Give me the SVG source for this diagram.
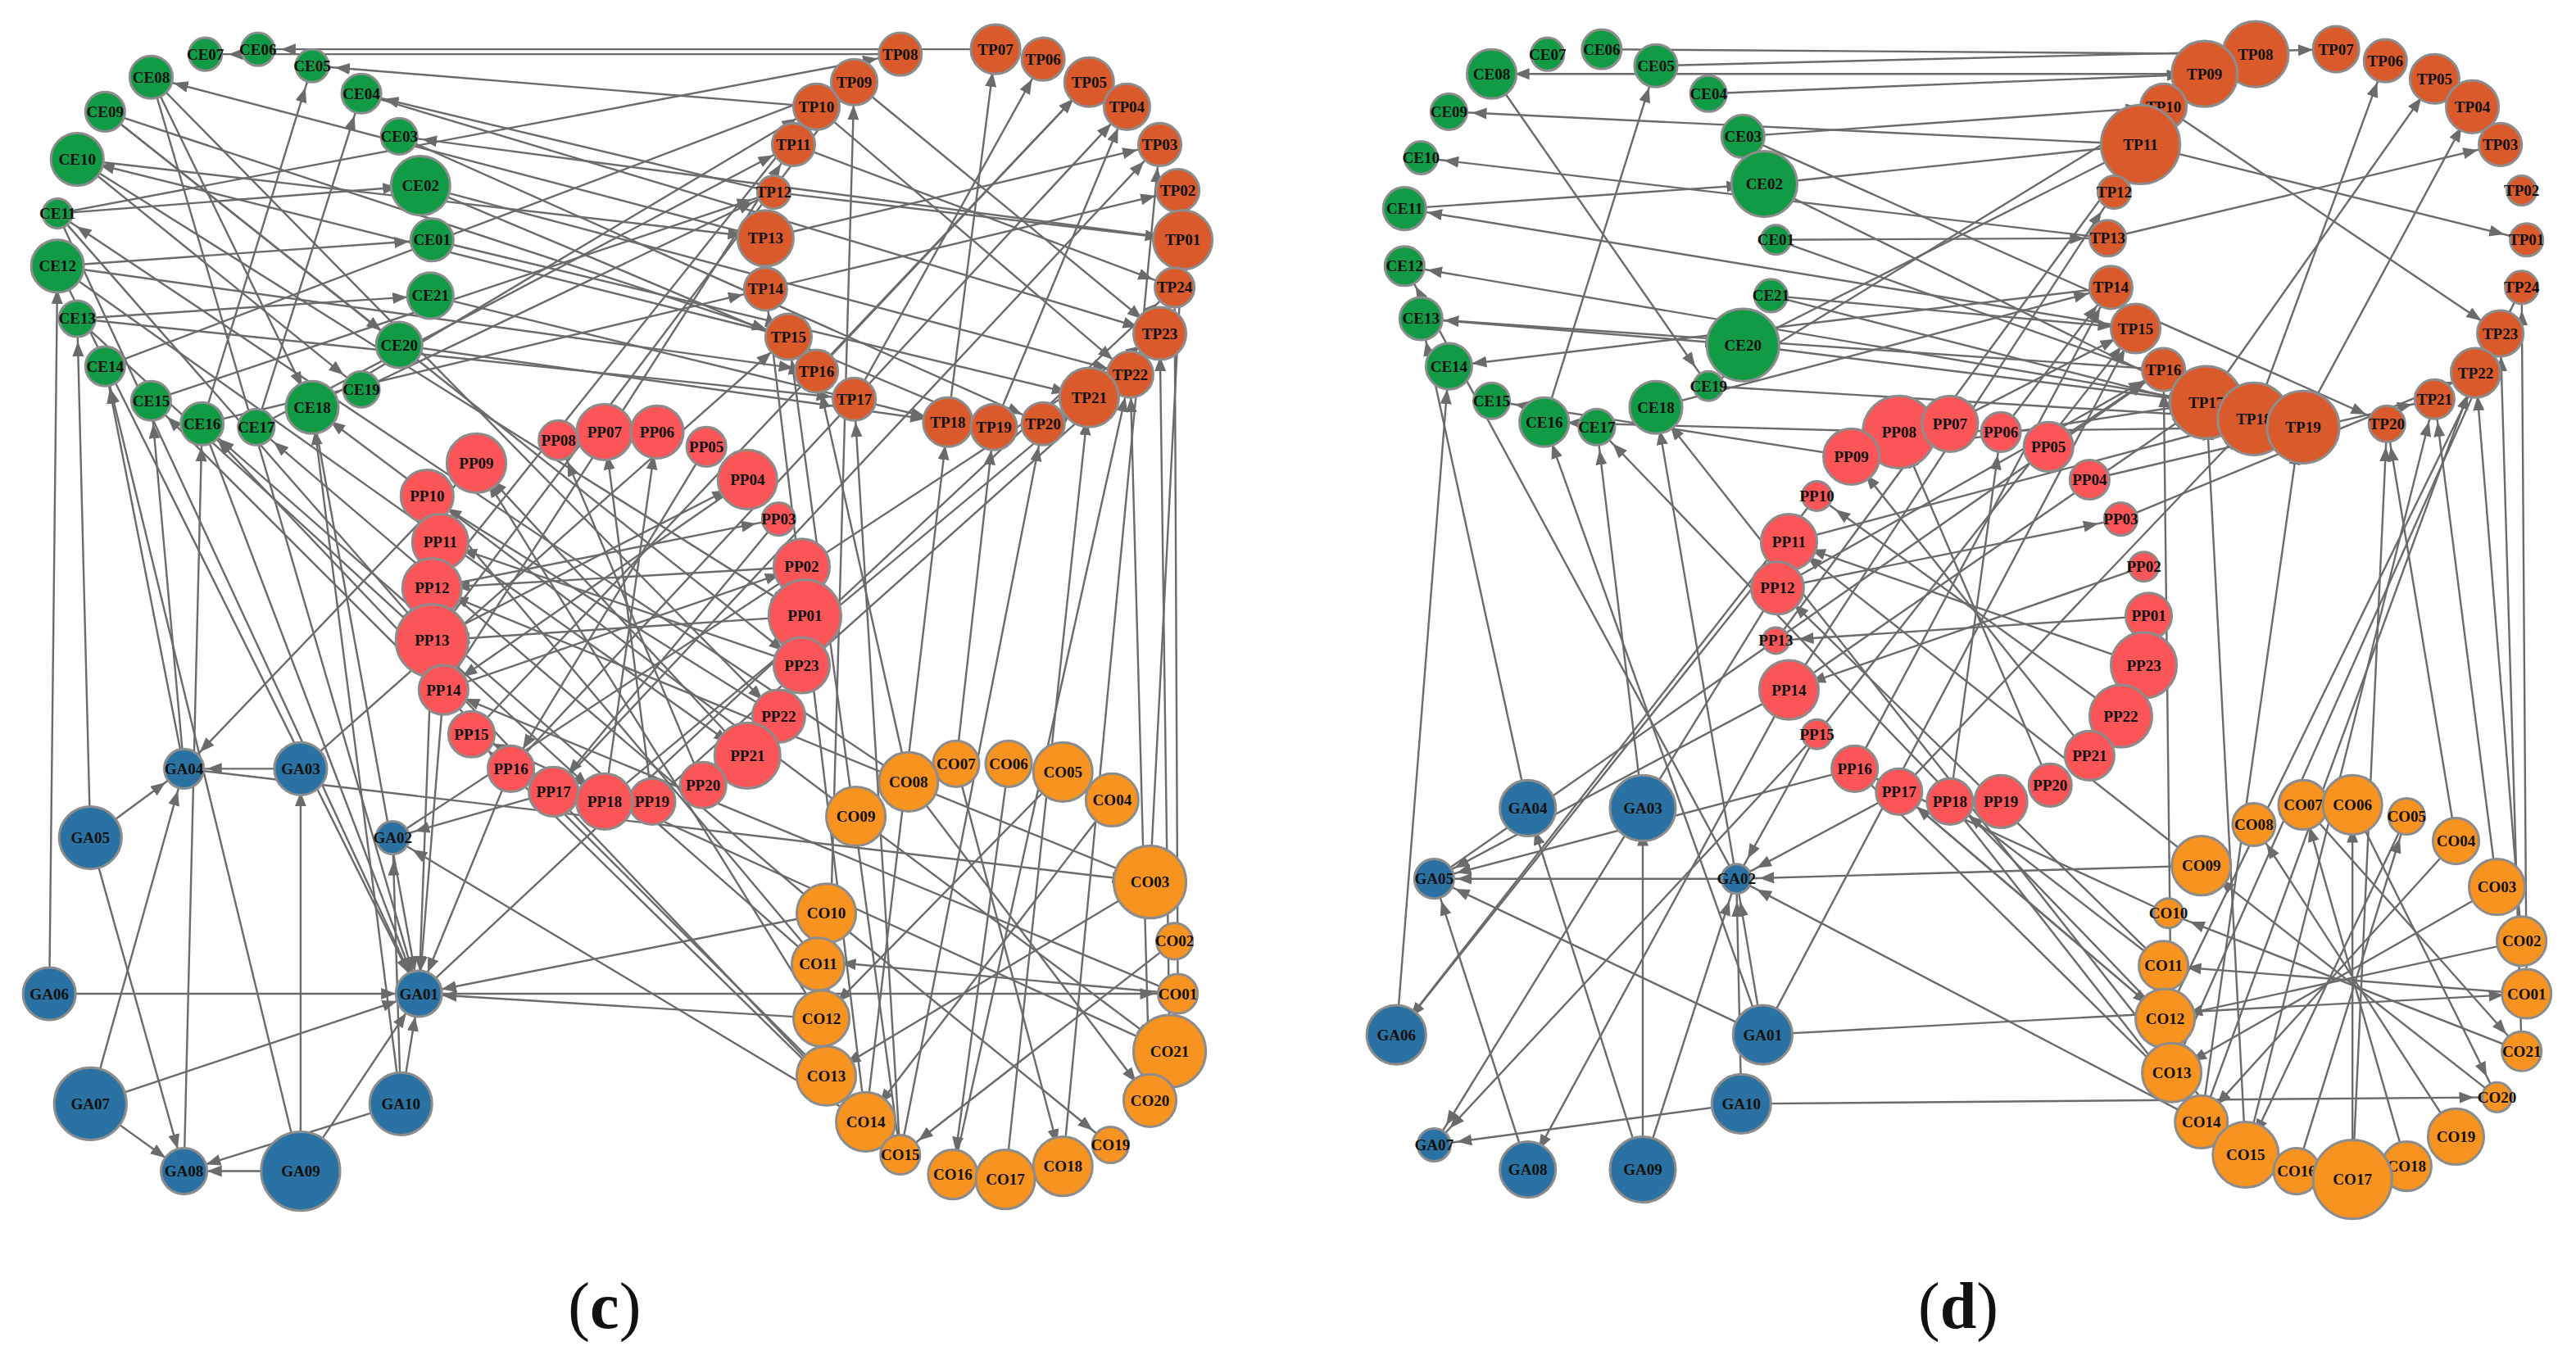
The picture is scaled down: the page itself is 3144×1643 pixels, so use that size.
<svg xmlns="http://www.w3.org/2000/svg" width="3144" height="1643" viewBox="0 0 3144 1643">
<style>
circle{stroke:#8c8c8c;stroke-width:1.5}
.ce{fill:#119b46}.tp{fill:#db5a2b}.pp{fill:#fb5557}.ga{fill:#2a72a3}.co{fill:#f8931f}
text{font-family:"Liberation Serif",serif;font-weight:bold;font-size:9.5px;text-anchor:middle;dominant-baseline:central;fill:#111}
.e line{stroke:#6b6b6b;stroke-width:1.2;marker-end:url(#a)}
.lab{font-size:40px;font-weight:normal}
.b{font-weight:bold}
</style>
<defs><marker id="a" markerUnits="userSpaceOnUse" markerWidth="40" markerHeight="8" refX="23" refY="3.5" orient="auto"><path d="M0,0L9,3.5L0,7z" fill="#6b6b6b"/></marker></defs>
<rect width="3144" height="1643" fill="#fff"/>
<g transform="scale(2.005)">
<g id="edges-c" class="e">
<line x1="35" y1="130" x2="255" y2="605"/><line x1="35" y1="162" x2="255" y2="605"/><line x1="92" y1="47" x2="255" y2="605"/><line x1="123" y1="258" x2="255" y2="605"/><line x1="190" y1="248" x2="255" y2="605"/>
<line x1="35" y1="130" x2="263" y2="390"/><line x1="35" y1="162" x2="455" y2="460"/><line x1="47" y1="194" x2="368" y2="488"/><line x1="47" y1="97" x2="490" y2="375"/><line x1="64" y1="68" x2="488" y2="405"/><line x1="92" y1="47" x2="474" y2="436"/>
<line x1="548" y1="33" x2="125" y2="33"/><line x1="606" y1="30" x2="157" y2="30"/><line x1="497" y1="65" x2="190" y2="40"/><line x1="471" y1="117" x2="220" y2="57"/><line x1="466" y1="145" x2="92" y2="47"/><line x1="720" y1="146" x2="243" y2="83"/><line x1="480" y1="205" x2="47" y2="97"/>
<line x1="263" y1="390" x2="520" y2="50"/><line x1="263" y1="358" x2="497" y2="65"/><line x1="270" y1="420" x2="483" y2="88"/><line x1="287" y1="447" x2="663" y2="50"/><line x1="311" y1="468" x2="686" y2="65"/><line x1="337" y1="482" x2="706" y2="88"/><line x1="368" y1="488" x2="663" y2="242"/><line x1="397" y1="488" x2="688" y2="228"/>
<line x1="548" y1="703" x2="520" y2="243"/><line x1="527" y1="683" x2="577" y2="257"/><line x1="548" y1="703" x2="635" y2="258"/><line x1="527" y1="683" x2="123" y2="258"/><line x1="503" y1="655" x2="92" y2="244"/><line x1="500" y1="620" x2="290" y2="282"/><line x1="498" y1="585" x2="260" y2="302"/><line x1="503" y1="556" x2="255" y2="605"/><line x1="500" y1="620" x2="255" y2="605"/><line x1="527" y1="683" x2="239" y2="510"/><line x1="548" y1="703" x2="287" y2="447"/><line x1="553" y1="476" x2="497" y2="226"/><line x1="582" y1="465" x2="605" y2="260"/>
<line x1="553" y1="476" x2="700" y2="670"/><line x1="503" y1="556" x2="676" y2="697"/><line x1="582" y1="465" x2="647" y2="710"/><line x1="614" y1="465" x2="580" y2="715"/><line x1="647" y1="470" x2="500" y2="620"/><line x1="677" y1="487" x2="527" y2="683"/><line x1="700" y1="537" x2="503" y2="655"/><line x1="521" y1="497" x2="712" y2="640"/><line x1="715" y1="573" x2="548" y2="703"/><line x1="717" y1="605" x2="498" y2="585"/>
<line x1="55" y1="672" x2="112" y2="713"/><line x1="183" y1="713" x2="112" y2="713"/><line x1="55" y1="672" x2="112" y2="468"/><line x1="55" y1="510" x2="112" y2="468"/><line x1="183" y1="468" x2="112" y2="468"/><line x1="244" y1="672" x2="255" y2="605"/><line x1="183" y1="713" x2="255" y2="605"/><line x1="30" y1="605" x2="255" y2="605"/><line x1="244" y1="672" x2="112" y2="713"/><line x1="183" y1="713" x2="183" y2="468"/><line x1="55" y1="672" x2="255" y2="605"/><line x1="55" y1="510" x2="112" y2="713"/>
<line x1="112" y1="468" x2="64" y2="223"/><line x1="112" y1="468" x2="92" y2="244"/><line x1="183" y1="468" x2="480" y2="205"/><line x1="112" y1="468" x2="700" y2="537"/><line x1="255" y1="605" x2="717" y2="605"/><line x1="255" y1="605" x2="715" y2="175"/><line x1="239" y1="510" x2="706" y2="203"/>
<line x1="490" y1="375" x2="263" y2="390"/><line x1="488" y1="345" x2="263" y2="358"/><line x1="488" y1="405" x2="268" y2="330"/><line x1="455" y1="292" x2="270" y2="420"/><line x1="430" y1="272" x2="311" y2="468"/><line x1="474" y1="316" x2="337" y2="482"/><line x1="474" y1="436" x2="260" y2="302"/><line x1="455" y1="460" x2="290" y2="282"/><line x1="428" y1="478" x2="340" y2="268"/><line x1="397" y1="488" x2="368" y2="263"/><line x1="263" y1="390" x2="455" y2="292"/><line x1="263" y1="358" x2="474" y2="316"/><line x1="270" y1="420" x2="488" y2="345"/><line x1="368" y1="488" x2="400" y2="263"/>
<line x1="35" y1="130" x2="256" y2="113"/><line x1="35" y1="162" x2="263" y2="146"/><line x1="47" y1="194" x2="262" y2="180"/><line x1="64" y1="68" x2="243" y2="210"/><line x1="47" y1="97" x2="220" y2="237"/><line x1="92" y1="47" x2="190" y2="248"/><line x1="123" y1="258" x2="190" y2="40"/><line x1="156" y1="260" x2="220" y2="57"/>
<line x1="466" y1="145" x2="706" y2="88"/><line x1="466" y1="176" x2="717" y2="116"/><line x1="471" y1="117" x2="720" y2="146"/><line x1="483" y1="88" x2="715" y2="175"/><line x1="520" y1="50" x2="706" y2="203"/><line x1="497" y1="65" x2="688" y2="228"/><line x1="497" y1="226" x2="663" y2="50"/><line x1="520" y1="243" x2="635" y2="36"/><line x1="577" y1="257" x2="606" y2="30"/><line x1="605" y1="260" x2="686" y2="65"/>
<line x1="700" y1="537" x2="720" y2="146"/><line x1="717" y1="605" x2="715" y2="175"/><line x1="712" y1="640" x2="706" y2="203"/><line x1="700" y1="670" x2="688" y2="228"/>
<line x1="263" y1="390" x2="255" y2="605"/><line x1="270" y1="420" x2="255" y2="605"/><line x1="311" y1="468" x2="255" y2="605"/><line x1="337" y1="482" x2="239" y2="510"/><line x1="290" y1="282" x2="112" y2="468"/>
<line x1="35" y1="130" x2="548" y2="33"/><line x1="64" y1="223" x2="520" y2="50"/><line x1="92" y1="244" x2="471" y2="117"/><line x1="256" y1="113" x2="605" y2="260"/><line x1="262" y1="180" x2="577" y2="257"/><line x1="30" y1="605" x2="35" y2="162"/><line x1="55" y1="510" x2="47" y2="194"/>
<line x1="47" y1="97" x2="466" y2="145"/><line x1="64" y1="68" x2="480" y2="205"/><line x1="35" y1="162" x2="497" y2="226"/><line x1="47" y1="194" x2="520" y2="243"/><line x1="123" y1="258" x2="466" y2="176"/><line x1="156" y1="260" x2="483" y2="88"/><line x1="190" y1="248" x2="497" y2="65"/><line x1="220" y1="237" x2="471" y2="117"/><line x1="243" y1="210" x2="577" y2="257"/><line x1="263" y1="146" x2="663" y2="242"/><line x1="256" y1="113" x2="688" y2="228"/><line x1="243" y1="83" x2="635" y2="258"/><line x1="220" y1="57" x2="706" y2="203"/><line x1="527" y1="683" x2="466" y2="176"/><line x1="548" y1="703" x2="480" y2="205"/><line x1="503" y1="655" x2="520" y2="50"/><line x1="612" y1="718" x2="663" y2="242"/><line x1="580" y1="715" x2="688" y2="228"/><line x1="647" y1="710" x2="706" y2="88"/><line x1="498" y1="587" x2="123" y2="258"/><line x1="503" y1="556" x2="156" y2="260"/><line x1="521" y1="497" x2="190" y2="248"/><line x1="553" y1="476" x2="35" y2="130"/><line x1="700" y1="537" x2="263" y2="358"/><line x1="717" y1="605" x2="270" y2="420"/><line x1="712" y1="640" x2="287" y2="447"/><line x1="183" y1="713" x2="64" y2="223"/><line x1="112" y1="713" x2="123" y2="258"/><line x1="244" y1="672" x2="190" y2="248"/><line x1="244" y1="672" x2="239" y2="510"/>
</g>
<g id="edges-d" class="e">
<line x1="975" y1="30" x2="1373" y2="33"/><line x1="1008" y1="40" x2="1422" y2="30"/><line x1="1040" y1="57" x2="1342" y2="45"/><line x1="1074" y1="112" x2="1303" y2="88"/><line x1="1061" y1="83" x2="1317" y2="65"/><line x1="1081" y1="146" x2="1283" y2="145"/><line x1="1078" y1="180" x2="1300" y2="200"/><line x1="1061" y1="210" x2="1343" y2="245"/><line x1="1040" y1="235" x2="1372" y2="255"/>
<line x1="1342" y1="45" x2="908" y2="45"/><line x1="1303" y1="88" x2="882" y2="68"/><line x1="1283" y1="145" x2="865" y2="96"/><line x1="1300" y1="200" x2="855" y2="127"/><line x1="1343" y1="245" x2="855" y2="162"/><line x1="1317" y1="225" x2="865" y2="194"/><line x1="1285" y1="175" x2="882" y2="223"/>
<line x1="1156" y1="263" x2="940" y2="257"/><line x1="1127" y1="278" x2="908" y2="244"/><line x1="1187" y1="258" x2="1300" y2="200"/><line x1="1247" y1="272" x2="1317" y2="225"/><line x1="1218" y1="263" x2="1285" y2="175"/><line x1="1272" y1="292" x2="1482" y2="243"/><line x1="1291" y1="316" x2="1507" y2="227"/><line x1="1081" y1="390" x2="1303" y2="88"/><line x1="1089" y1="420" x2="1287" y2="117"/><line x1="1106" y1="447" x2="1057" y2="535"/><line x1="1156" y1="482" x2="1057" y2="535"/><line x1="1129" y1="468" x2="873" y2="535"/><line x1="1089" y1="420" x2="873" y2="535"/><line x1="1082" y1="358" x2="873" y2="697"/><line x1="1089" y1="330" x2="850" y2="630"/>
<line x1="1308" y1="375" x2="1081" y2="390"/><line x1="1305" y1="405" x2="1089" y2="330"/><line x1="1305" y1="345" x2="1089" y2="420"/><line x1="1291" y1="436" x2="1106" y2="302"/><line x1="1272" y1="460" x2="1127" y2="278"/><line x1="1248" y1="478" x2="1156" y2="263"/><line x1="1187" y1="488" x2="1218" y2="263"/><line x1="1082" y1="358" x2="1291" y2="316"/>
<line x1="1367" y1="703" x2="1343" y2="245"/><line x1="1340" y1="683" x2="1400" y2="260"/><line x1="1322" y1="653" x2="1317" y2="225"/><line x1="1318" y1="620" x2="1156" y2="482"/><line x1="1317" y1="588" x2="1187" y2="488"/><line x1="1320" y1="556" x2="1129" y2="468"/><line x1="1340" y1="527" x2="1057" y2="535"/><line x1="1340" y1="683" x2="1057" y2="535"/><line x1="1367" y1="703" x2="1008" y2="248"/><line x1="1318" y1="620" x2="972" y2="260"/><line x1="1495" y1="512" x2="1453" y2="258"/><line x1="1520" y1="540" x2="1482" y2="243"/><line x1="1535" y1="573" x2="1507" y2="227"/>
<line x1="1520" y1="668" x2="1340" y2="527"/><line x1="1495" y1="692" x2="1372" y2="502"/><line x1="1465" y1="710" x2="1402" y2="490"/><line x1="1432" y1="718" x2="1432" y2="490"/><line x1="1398" y1="713" x2="1465" y2="497"/><line x1="1535" y1="640" x2="1320" y2="556"/><line x1="1538" y1="605" x2="1317" y2="588"/><line x1="1535" y1="573" x2="1318" y2="620"/><line x1="1520" y1="540" x2="1322" y2="653"/><line x1="1495" y1="512" x2="1340" y2="683"/><line x1="1465" y1="497" x2="1367" y2="703"/><line x1="1432" y1="490" x2="1520" y2="668"/><line x1="1402" y1="490" x2="1535" y2="640"/>
<line x1="1057" y1="535" x2="873" y2="535"/><line x1="1060" y1="672" x2="873" y2="697"/><line x1="1000" y1="712" x2="930" y2="492"/><line x1="930" y1="712" x2="873" y2="535"/><line x1="1073" y1="630" x2="873" y2="535"/><line x1="1060" y1="672" x2="1057" y2="535"/><line x1="1073" y1="630" x2="1057" y2="535"/><line x1="1000" y1="712" x2="1057" y2="535"/><line x1="1073" y1="630" x2="1538" y2="605"/><line x1="1060" y1="672" x2="1520" y2="668"/><line x1="873" y1="535" x2="1317" y2="225"/><line x1="930" y1="492" x2="865" y2="194"/><line x1="850" y1="630" x2="882" y2="223"/><line x1="1073" y1="630" x2="940" y2="257"/><line x1="1057" y1="535" x2="1008" y2="248"/><line x1="1057" y1="535" x2="855" y2="162"/><line x1="1000" y1="492" x2="972" y2="260"/>
<line x1="855" y1="127" x2="1074" y2="112"/><line x1="865" y1="194" x2="1061" y2="210"/><line x1="908" y1="45" x2="1040" y2="235"/><line x1="940" y1="257" x2="1008" y2="40"/><line x1="1283" y1="145" x2="1522" y2="88"/><line x1="1303" y1="88" x2="1538" y2="146"/><line x1="1343" y1="245" x2="1482" y2="48"/><line x1="1372" y1="255" x2="1452" y2="37"/><line x1="1400" y1="260" x2="1505" y2="65"/><line x1="1317" y1="65" x2="1522" y2="203"/><line x1="1538" y1="605" x2="1535" y2="175"/><line x1="1535" y1="640" x2="1522" y2="203"/>
<line x1="1074" y1="112" x2="1343" y2="245"/><line x1="1061" y1="210" x2="1303" y2="88"/><line x1="1078" y1="180" x2="1372" y2="255"/><line x1="1081" y1="146" x2="1402" y2="260"/><line x1="1040" y1="235" x2="1317" y2="65"/><line x1="1061" y1="83" x2="1453" y2="258"/><line x1="1008" y1="248" x2="1285" y2="175"/><line x1="1156" y1="263" x2="1402" y2="260"/><line x1="1127" y1="278" x2="1343" y2="245"/><line x1="1089" y1="330" x2="1372" y2="255"/><line x1="1082" y1="358" x2="1317" y2="225"/><line x1="1089" y1="420" x2="1343" y2="245"/><line x1="1106" y1="447" x2="1300" y2="200"/><line x1="1129" y1="468" x2="1285" y2="175"/><line x1="1156" y1="482" x2="1372" y2="255"/><line x1="1187" y1="488" x2="1340" y2="683"/><line x1="1156" y1="482" x2="1318" y2="620"/><line x1="1129" y1="468" x2="1367" y2="703"/><line x1="1089" y1="420" x2="930" y2="712"/><line x1="1106" y1="447" x2="873" y2="697"/><line x1="1340" y1="683" x2="1507" y2="227"/><line x1="1367" y1="703" x2="1482" y2="243"/><line x1="1432" y1="718" x2="1453" y2="258"/><line x1="1322" y1="653" x2="1522" y2="203"/><line x1="1318" y1="620" x2="1535" y2="175"/><line x1="1340" y1="527" x2="1089" y2="330"/><line x1="1317" y1="588" x2="1082" y2="358"/><line x1="1000" y1="712" x2="1000" y2="492"/><line x1="1073" y1="630" x2="1300" y2="200"/><line x1="850" y1="630" x2="1106" y2="302"/>
</g>
<g id="c-CE07"><circle class="ce" cx="125" cy="33" r="10"/><text x="125" y="33">CE07</text></g>
<g id="c-CE06"><circle class="ce" cx="157" cy="30" r="10"/><text x="157" y="30">CE06</text></g>
<g id="c-CE05"><circle class="ce" cx="190" cy="40" r="10"/><text x="190" y="40">CE05</text></g>
<g id="c-CE08"><circle class="ce" cx="92" cy="47" r="13"/><text x="92" y="47">CE08</text></g>
<g id="c-CE04"><circle class="ce" cx="220" cy="57" r="12"/><text x="220" y="57">CE04</text></g>
<g id="c-CE09"><circle class="ce" cx="64" cy="68" r="12"/><text x="64" y="68">CE09</text></g>
<g id="c-CE03"><circle class="ce" cx="243" cy="83" r="11"/><text x="243" y="83">CE03</text></g>
<g id="c-CE10"><circle class="ce" cx="47" cy="97" r="16"/><text x="47" y="97">CE10</text></g>
<g id="c-CE02"><circle class="ce" cx="256" cy="113" r="18"/><text x="256" y="113">CE02</text></g>
<g id="c-CE11"><circle class="ce" cx="35" cy="130" r="9"/><text x="35" y="130">CE11</text></g>
<g id="c-CE01"><circle class="ce" cx="263" cy="146" r="13"/><text x="263" y="146">CE01</text></g>
<g id="c-CE12"><circle class="ce" cx="35" cy="162" r="16"/><text x="35" y="162">CE12</text></g>
<g id="c-CE21"><circle class="ce" cx="262" cy="180" r="14"/><text x="262" y="180">CE21</text></g>
<g id="c-CE13"><circle class="ce" cx="47" cy="194" r="11"/><text x="47" y="194">CE13</text></g>
<g id="c-CE20"><circle class="ce" cx="243" cy="210" r="14"/><text x="243" y="210">CE20</text></g>
<g id="c-CE14"><circle class="ce" cx="64" cy="223" r="12"/><text x="64" y="223">CE14</text></g>
<g id="c-CE19"><circle class="ce" cx="220" cy="237" r="11"/><text x="220" y="237">CE19</text></g>
<g id="c-CE15"><circle class="ce" cx="92" cy="244" r="12"/><text x="92" y="244">CE15</text></g>
<g id="c-CE18"><circle class="ce" cx="190" cy="248" r="16"/><text x="190" y="248">CE18</text></g>
<g id="c-CE16"><circle class="ce" cx="123" cy="258" r="13"/><text x="123" y="258">CE16</text></g>
<g id="c-CE17"><circle class="ce" cx="156" cy="260" r="11"/><text x="156" y="260">CE17</text></g>
<g id="c-TP08"><circle class="tp" cx="548" cy="33" r="13"/><text x="548" y="33">TP08</text></g>
<g id="c-TP07"><circle class="tp" cx="606" cy="30" r="15"/><text x="606" y="30">TP07</text></g>
<g id="c-TP06"><circle class="tp" cx="635" cy="36" r="13"/><text x="635" y="36">TP06</text></g>
<g id="c-TP05"><circle class="tp" cx="663" cy="50" r="15"/><text x="663" y="50">TP05</text></g>
<g id="c-TP09"><circle class="tp" cx="520" cy="50" r="14"/><text x="520" y="50">TP09</text></g>
<g id="c-TP04"><circle class="tp" cx="686" cy="65" r="14"/><text x="686" y="65">TP04</text></g>
<g id="c-TP10"><circle class="tp" cx="497" cy="65" r="14"/><text x="497" y="65">TP10</text></g>
<g id="c-TP03"><circle class="tp" cx="706" cy="88" r="13"/><text x="706" y="88">TP03</text></g>
<g id="c-TP11"><circle class="tp" cx="483" cy="88" r="13"/><text x="483" y="88">TP11</text></g>
<g id="c-TP02"><circle class="tp" cx="717" cy="116" r="13"/><text x="717" y="116">TP02</text></g>
<g id="c-TP12"><circle class="tp" cx="471" cy="117" r="10"/><text x="471" y="117">TP12</text></g>
<g id="c-TP01"><circle class="tp" cx="720" cy="146" r="18"/><text x="720" y="146">TP01</text></g>
<g id="c-TP13"><circle class="tp" cx="466" cy="145" r="17"/><text x="466" y="145">TP13</text></g>
<g id="c-TP24"><circle class="tp" cx="715" cy="175" r="12"/><text x="715" y="175">TP24</text></g>
<g id="c-TP14"><circle class="tp" cx="466" cy="176" r="13"/><text x="466" y="176">TP14</text></g>
<g id="c-TP23"><circle class="tp" cx="706" cy="203" r="16"/><text x="706" y="203">TP23</text></g>
<g id="c-TP15"><circle class="tp" cx="480" cy="205" r="14"/><text x="480" y="205">TP15</text></g>
<g id="c-TP22"><circle class="tp" cx="688" cy="228" r="14"/><text x="688" y="228">TP22</text></g>
<g id="c-TP16"><circle class="tp" cx="497" cy="226" r="13"/><text x="497" y="226">TP16</text></g>
<g id="c-TP21"><circle class="tp" cx="663" cy="242" r="18"/><text x="663" y="242">TP21</text></g>
<g id="c-TP17"><circle class="tp" cx="520" cy="243" r="13"/><text x="520" y="243">TP17</text></g>
<g id="c-TP20"><circle class="tp" cx="635" cy="258" r="13"/><text x="635" y="258">TP20</text></g>
<g id="c-TP18"><circle class="tp" cx="577" cy="257" r="15"/><text x="577" y="257">TP18</text></g>
<g id="c-TP19"><circle class="tp" cx="605" cy="260" r="14"/><text x="605" y="260">TP19</text></g>
<g id="c-PP07"><circle class="pp" cx="368" cy="263" r="17"/><text x="368" y="263">PP07</text></g>
<g id="c-PP06"><circle class="pp" cx="400" cy="263" r="16"/><text x="400" y="263">PP06</text></g>
<g id="c-PP08"><circle class="pp" cx="340" cy="268" r="12"/><text x="340" y="268">PP08</text></g>
<g id="c-PP05"><circle class="pp" cx="430" cy="272" r="12"/><text x="430" y="272">PP05</text></g>
<g id="c-PP09"><circle class="pp" cx="290" cy="282" r="18"/><text x="290" y="282">PP09</text></g>
<g id="c-PP04"><circle class="pp" cx="455" cy="292" r="18"/><text x="455" y="292">PP04</text></g>
<g id="c-PP10"><circle class="pp" cx="260" cy="302" r="16"/><text x="260" y="302">PP10</text></g>
<g id="c-PP03"><circle class="pp" cx="474" cy="316" r="10"/><text x="474" y="316">PP03</text></g>
<g id="c-PP11"><circle class="pp" cx="268" cy="330" r="17"/><text x="268" y="330">PP11</text></g>
<g id="c-PP02"><circle class="pp" cx="488" cy="345" r="17"/><text x="488" y="345">PP02</text></g>
<g id="c-PP12"><circle class="pp" cx="263" cy="358" r="18"/><text x="263" y="358">PP12</text></g>
<g id="c-PP01"><circle class="pp" cx="490" cy="375" r="22"/><text x="490" y="375">PP01</text></g>
<g id="c-PP13"><circle class="pp" cx="263" cy="390" r="22"/><text x="263" y="390">PP13</text></g>
<g id="c-PP23"><circle class="pp" cx="488" cy="405" r="17"/><text x="488" y="405">PP23</text></g>
<g id="c-PP14"><circle class="pp" cx="270" cy="420" r="15"/><text x="270" y="420">PP14</text></g>
<g id="c-PP22"><circle class="pp" cx="474" cy="436" r="16"/><text x="474" y="436">PP22</text></g>
<g id="c-PP15"><circle class="pp" cx="287" cy="447" r="14"/><text x="287" y="447">PP15</text></g>
<g id="c-PP21"><circle class="pp" cx="455" cy="460" r="20"/><text x="455" y="460">PP21</text></g>
<g id="c-PP16"><circle class="pp" cx="311" cy="468" r="14"/><text x="311" y="468">PP16</text></g>
<g id="c-PP20"><circle class="pp" cx="428" cy="478" r="14"/><text x="428" y="478">PP20</text></g>
<g id="c-PP17"><circle class="pp" cx="337" cy="482" r="15"/><text x="337" y="482">PP17</text></g>
<g id="c-PP19"><circle class="pp" cx="397" cy="488" r="14"/><text x="397" y="488">PP19</text></g>
<g id="c-PP18"><circle class="pp" cx="368" cy="488" r="17"/><text x="368" y="488">PP18</text></g>
<g id="c-GA04"><circle class="ga" cx="112" cy="468" r="12"/><text x="112" y="468">GA04</text></g>
<g id="c-GA03"><circle class="ga" cx="183" cy="468" r="16"/><text x="183" y="468">GA03</text></g>
<g id="c-GA05"><circle class="ga" cx="55" cy="510" r="19"/><text x="55" y="510">GA05</text></g>
<g id="c-GA02"><circle class="ga" cx="239" cy="510" r="10"/><text x="239" y="510">GA02</text></g>
<g id="c-GA06"><circle class="ga" cx="30" cy="605" r="16"/><text x="30" y="605">GA06</text></g>
<g id="c-GA01"><circle class="ga" cx="255" cy="605" r="14"/><text x="255" y="605">GA01</text></g>
<g id="c-GA07"><circle class="ga" cx="55" cy="672" r="22"/><text x="55" y="672">GA07</text></g>
<g id="c-GA10"><circle class="ga" cx="244" cy="672" r="19"/><text x="244" y="672">GA10</text></g>
<g id="c-GA08"><circle class="ga" cx="112" cy="713" r="14"/><text x="112" y="713">GA08</text></g>
<g id="c-GA09"><circle class="ga" cx="183" cy="713" r="24"/><text x="183" y="713">GA09</text></g>
<g id="c-CO07"><circle class="co" cx="582" cy="465" r="14"/><text x="582" y="465">CO07</text></g>
<g id="c-CO06"><circle class="co" cx="614" cy="465" r="14"/><text x="614" y="465">CO06</text></g>
<g id="c-CO08"><circle class="co" cx="553" cy="476" r="18"/><text x="553" y="476">CO08</text></g>
<g id="c-CO05"><circle class="co" cx="647" cy="470" r="18"/><text x="647" y="470">CO05</text></g>
<g id="c-CO09"><circle class="co" cx="521" cy="497" r="18"/><text x="521" y="497">CO09</text></g>
<g id="c-CO04"><circle class="co" cx="677" cy="487" r="16"/><text x="677" y="487">CO04</text></g>
<g id="c-CO03"><circle class="co" cx="700" cy="537" r="22"/><text x="700" y="537">CO03</text></g>
<g id="c-CO10"><circle class="co" cx="503" cy="556" r="18"/><text x="503" y="556">CO10</text></g>
<g id="c-CO02"><circle class="co" cx="715" cy="573" r="11"/><text x="715" y="573">CO02</text></g>
<g id="c-CO11"><circle class="co" cx="498" cy="587" r="16"/><text x="498" y="587">CO11</text></g>
<g id="c-CO01"><circle class="co" cx="717" cy="605" r="12"/><text x="717" y="605">CO01</text></g>
<g id="c-CO12"><circle class="co" cx="500" cy="620" r="17"/><text x="500" y="620">CO12</text></g>
<g id="c-CO21"><circle class="co" cx="712" cy="640" r="22"/><text x="712" y="640">CO21</text></g>
<g id="c-CO13"><circle class="co" cx="503" cy="655" r="18"/><text x="503" y="655">CO13</text></g>
<g id="c-CO20"><circle class="co" cx="700" cy="670" r="16"/><text x="700" y="670">CO20</text></g>
<g id="c-CO14"><circle class="co" cx="527" cy="683" r="18"/><text x="527" y="683">CO14</text></g>
<g id="c-CO19"><circle class="co" cx="676" cy="697" r="11"/><text x="676" y="697">CO19</text></g>
<g id="c-CO15"><circle class="co" cx="548" cy="703" r="12"/><text x="548" y="703">CO15</text></g>
<g id="c-CO18"><circle class="co" cx="647" cy="710" r="18"/><text x="647" y="710">CO18</text></g>
<g id="c-CO16"><circle class="co" cx="580" cy="715" r="15"/><text x="580" y="715">CO16</text></g>
<g id="c-CO17"><circle class="co" cx="612" cy="718" r="18"/><text x="612" y="718">CO17</text></g>
<g id="d-CE07"><circle class="ce" cx="942" cy="33" r="10"/><text x="942" y="33">CE07</text></g>
<g id="d-CE06"><circle class="ce" cx="975" cy="30" r="12"/><text x="975" y="30">CE06</text></g>
<g id="d-CE05"><circle class="ce" cx="1008" cy="40" r="13"/><text x="1008" y="40">CE05</text></g>
<g id="d-CE08"><circle class="ce" cx="908" cy="45" r="15"/><text x="908" y="45">CE08</text></g>
<g id="d-CE04"><circle class="ce" cx="1040" cy="57" r="11"/><text x="1040" y="57">CE04</text></g>
<g id="d-CE09"><circle class="ce" cx="882" cy="68" r="11"/><text x="882" y="68">CE09</text></g>
<g id="d-CE03"><circle class="ce" cx="1061" cy="83" r="13"/><text x="1061" y="83">CE03</text></g>
<g id="d-CE10"><circle class="ce" cx="865" cy="96" r="10"/><text x="865" y="96">CE10</text></g>
<g id="d-CE02"><circle class="ce" cx="1074" cy="112" r="20"/><text x="1074" y="112">CE02</text></g>
<g id="d-CE11"><circle class="ce" cx="855" cy="127" r="13"/><text x="855" y="127">CE11</text></g>
<g id="d-CE01"><circle class="ce" cx="1081" cy="146" r="9"/><text x="1081" y="146">CE01</text></g>
<g id="d-CE12"><circle class="ce" cx="855" cy="162" r="12"/><text x="855" y="162">CE12</text></g>
<g id="d-CE21"><circle class="ce" cx="1078" cy="180" r="10"/><text x="1078" y="180">CE21</text></g>
<g id="d-CE13"><circle class="ce" cx="865" cy="194" r="13"/><text x="865" y="194">CE13</text></g>
<g id="d-CE20"><circle class="ce" cx="1061" cy="210" r="22"/><text x="1061" y="210">CE20</text></g>
<g id="d-CE14"><circle class="ce" cx="882" cy="223" r="14"/><text x="882" y="223">CE14</text></g>
<g id="d-CE19"><circle class="ce" cx="1040" cy="235" r="9"/><text x="1040" y="235">CE19</text></g>
<g id="d-CE15"><circle class="ce" cx="908" cy="244" r="11"/><text x="908" y="244">CE15</text></g>
<g id="d-CE18"><circle class="ce" cx="1008" cy="248" r="16"/><text x="1008" y="248">CE18</text></g>
<g id="d-CE16"><circle class="ce" cx="940" cy="257" r="15"/><text x="940" y="257">CE16</text></g>
<g id="d-CE17"><circle class="ce" cx="972" cy="260" r="11"/><text x="972" y="260">CE17</text></g>
<g id="d-TP08"><circle class="tp" cx="1373" cy="33" r="20"/><text x="1373" y="33">TP08</text></g>
<g id="d-TP07"><circle class="tp" cx="1422" cy="30" r="14"/><text x="1422" y="30">TP07</text></g>
<g id="d-TP06"><circle class="tp" cx="1452" cy="37" r="13"/><text x="1452" y="37">TP06</text></g>
<g id="d-TP09"><circle class="tp" cx="1342" cy="45" r="20"/><text x="1342" y="45">TP09</text></g>
<g id="d-TP05"><circle class="tp" cx="1482" cy="48" r="15"/><text x="1482" y="48">TP05</text></g>
<g id="d-TP10"><circle class="tp" cx="1317" cy="65" r="14"/><text x="1317" y="65">TP10</text></g>
<g id="d-TP04"><circle class="tp" cx="1505" cy="65" r="16"/><text x="1505" y="65">TP04</text></g>
<g id="d-TP11"><circle class="tp" cx="1303" cy="88" r="24"/><text x="1303" y="88">TP11</text></g>
<g id="d-TP03"><circle class="tp" cx="1522" cy="88" r="13"/><text x="1522" y="88">TP03</text></g>
<g id="d-TP12"><circle class="tp" cx="1287" cy="117" r="10"/><text x="1287" y="117">TP12</text></g>
<g id="d-TP02"><circle class="tp" cx="1535" cy="116" r="9"/><text x="1535" y="116">TP02</text></g>
<g id="d-TP13"><circle class="tp" cx="1283" cy="145" r="11"/><text x="1283" y="145">TP13</text></g>
<g id="d-TP01"><circle class="tp" cx="1538" cy="146" r="10"/><text x="1538" y="146">TP01</text></g>
<g id="d-TP14"><circle class="tp" cx="1285" cy="175" r="13"/><text x="1285" y="175">TP14</text></g>
<g id="d-TP24"><circle class="tp" cx="1535" cy="175" r="10"/><text x="1535" y="175">TP24</text></g>
<g id="d-TP15"><circle class="tp" cx="1300" cy="200" r="15"/><text x="1300" y="200">TP15</text></g>
<g id="d-TP23"><circle class="tp" cx="1522" cy="203" r="14"/><text x="1522" y="203">TP23</text></g>
<g id="d-TP16"><circle class="tp" cx="1317" cy="225" r="13"/><text x="1317" y="225">TP16</text></g>
<g id="d-TP22"><circle class="tp" cx="1507" cy="227" r="15"/><text x="1507" y="227">TP22</text></g>
<g id="d-TP17"><circle class="tp" cx="1343" cy="245" r="22"/><text x="1343" y="245">TP17</text></g>
<g id="d-TP21"><circle class="tp" cx="1482" cy="243" r="12"/><text x="1482" y="243">TP21</text></g>
<g id="d-TP18"><circle class="tp" cx="1372" cy="255" r="22"/><text x="1372" y="255">TP18</text></g>
<g id="d-TP19"><circle class="tp" cx="1402" cy="260" r="22"/><text x="1402" y="260">TP19</text></g>
<g id="d-TP20"><circle class="tp" cx="1453" cy="258" r="11"/><text x="1453" y="258">TP20</text></g>
<g id="d-PP08"><circle class="pp" cx="1156" cy="263" r="22"/><text x="1156" y="263">PP08</text></g>
<g id="d-PP07"><circle class="pp" cx="1187" cy="258" r="17"/><text x="1187" y="258">PP07</text></g>
<g id="d-PP06"><circle class="pp" cx="1218" cy="263" r="12"/><text x="1218" y="263">PP06</text></g>
<g id="d-PP09"><circle class="pp" cx="1127" cy="278" r="17"/><text x="1127" y="278">PP09</text></g>
<g id="d-PP05"><circle class="pp" cx="1247" cy="272" r="15"/><text x="1247" y="272">PP05</text></g>
<g id="d-PP10"><circle class="pp" cx="1106" cy="302" r="9"/><text x="1106" y="302">PP10</text></g>
<g id="d-PP04"><circle class="pp" cx="1272" cy="292" r="12"/><text x="1272" y="292">PP04</text></g>
<g id="d-PP11"><circle class="pp" cx="1089" cy="330" r="17"/><text x="1089" y="330">PP11</text></g>
<g id="d-PP03"><circle class="pp" cx="1291" cy="316" r="10"/><text x="1291" y="316">PP03</text></g>
<g id="d-PP12"><circle class="pp" cx="1082" cy="358" r="16"/><text x="1082" y="358">PP12</text></g>
<g id="d-PP02"><circle class="pp" cx="1305" cy="345" r="9"/><text x="1305" y="345">PP02</text></g>
<g id="d-PP13"><circle class="pp" cx="1081" cy="390" r="8"/><text x="1081" y="390">PP13</text></g>
<g id="d-PP01"><circle class="pp" cx="1308" cy="375" r="14"/><text x="1308" y="375">PP01</text></g>
<g id="d-PP14"><circle class="pp" cx="1089" cy="420" r="18"/><text x="1089" y="420">PP14</text></g>
<g id="d-PP23"><circle class="pp" cx="1305" cy="405" r="20"/><text x="1305" y="405">PP23</text></g>
<g id="d-PP15"><circle class="pp" cx="1106" cy="447" r="9"/><text x="1106" y="447">PP15</text></g>
<g id="d-PP22"><circle class="pp" cx="1291" cy="436" r="19"/><text x="1291" y="436">PP22</text></g>
<g id="d-PP16"><circle class="pp" cx="1129" cy="468" r="14"/><text x="1129" y="468">PP16</text></g>
<g id="d-PP21"><circle class="pp" cx="1272" cy="460" r="15"/><text x="1272" y="460">PP21</text></g>
<g id="d-PP17"><circle class="pp" cx="1156" cy="482" r="14"/><text x="1156" y="482">PP17</text></g>
<g id="d-PP20"><circle class="pp" cx="1248" cy="478" r="13"/><text x="1248" y="478">PP20</text></g>
<g id="d-PP18"><circle class="pp" cx="1187" cy="488" r="14"/><text x="1187" y="488">PP18</text></g>
<g id="d-PP19"><circle class="pp" cx="1218" cy="488" r="16"/><text x="1218" y="488">PP19</text></g>
<g id="d-GA04"><circle class="ga" cx="930" cy="492" r="17"/><text x="930" y="492">GA04</text></g>
<g id="d-GA03"><circle class="ga" cx="1000" cy="492" r="20"/><text x="1000" y="492">GA03</text></g>
<g id="d-GA05"><circle class="ga" cx="873" cy="535" r="12"/><text x="873" y="535">GA05</text></g>
<g id="d-GA02"><circle class="ga" cx="1057" cy="535" r="9"/><text x="1057" y="535">GA02</text></g>
<g id="d-GA06"><circle class="ga" cx="850" cy="630" r="18"/><text x="850" y="630">GA06</text></g>
<g id="d-GA01"><circle class="ga" cx="1073" cy="630" r="18"/><text x="1073" y="630">GA01</text></g>
<g id="d-GA07"><circle class="ga" cx="873" cy="697" r="10"/><text x="873" y="697">GA07</text></g>
<g id="d-GA10"><circle class="ga" cx="1060" cy="672" r="18"/><text x="1060" y="672">GA10</text></g>
<g id="d-GA08"><circle class="ga" cx="930" cy="712" r="17"/><text x="930" y="712">GA08</text></g>
<g id="d-GA09"><circle class="ga" cx="1000" cy="712" r="20"/><text x="1000" y="712">GA09</text></g>
<g id="d-CO07"><circle class="co" cx="1402" cy="490" r="15"/><text x="1402" y="490">CO07</text></g>
<g id="d-CO06"><circle class="co" cx="1432" cy="490" r="18"/><text x="1432" y="490">CO06</text></g>
<g id="d-CO08"><circle class="co" cx="1372" cy="502" r="13"/><text x="1372" y="502">CO08</text></g>
<g id="d-CO05"><circle class="co" cx="1465" cy="497" r="11"/><text x="1465" y="497">CO05</text></g>
<g id="d-CO09"><circle class="co" cx="1340" cy="527" r="18"/><text x="1340" y="527">CO09</text></g>
<g id="d-CO04"><circle class="co" cx="1495" cy="512" r="14"/><text x="1495" y="512">CO04</text></g>
<g id="d-CO03"><circle class="co" cx="1520" cy="540" r="17"/><text x="1520" y="540">CO03</text></g>
<g id="d-CO10"><circle class="co" cx="1320" cy="556" r="9"/><text x="1320" y="556">CO10</text></g>
<g id="d-CO02"><circle class="co" cx="1535" cy="573" r="15"/><text x="1535" y="573">CO02</text></g>
<g id="d-CO11"><circle class="co" cx="1317" cy="588" r="15"/><text x="1317" y="588">CO11</text></g>
<g id="d-CO01"><circle class="co" cx="1538" cy="605" r="15"/><text x="1538" y="605">CO01</text></g>
<g id="d-CO12"><circle class="co" cx="1318" cy="620" r="18"/><text x="1318" y="620">CO12</text></g>
<g id="d-CO21"><circle class="co" cx="1535" cy="640" r="12"/><text x="1535" y="640">CO21</text></g>
<g id="d-CO13"><circle class="co" cx="1322" cy="653" r="18"/><text x="1322" y="653">CO13</text></g>
<g id="d-CO20"><circle class="co" cx="1520" cy="668" r="9"/><text x="1520" y="668">CO20</text></g>
<g id="d-CO14"><circle class="co" cx="1340" cy="683" r="16"/><text x="1340" y="683">CO14</text></g>
<g id="d-CO19"><circle class="co" cx="1495" cy="692" r="17"/><text x="1495" y="692">CO19</text></g>
<g id="d-CO15"><circle class="co" cx="1367" cy="703" r="20"/><text x="1367" y="703">CO15</text></g>
<g id="d-CO18"><circle class="co" cx="1465" cy="710" r="15"/><text x="1465" y="710">CO18</text></g>
<g id="d-CO16"><circle class="co" cx="1398" cy="713" r="14"/><text x="1398" y="713">CO16</text></g>
<g id="d-CO17"><circle class="co" cx="1432" cy="718" r="24"/><text x="1432" y="718">CO17</text></g>
<text class="lab" x="368" y="795">(<tspan class="b">c</tspan>)</text>
<text class="lab" x="1192" y="795">(<tspan class="b">d</tspan>)</text>
</g>
</svg>
